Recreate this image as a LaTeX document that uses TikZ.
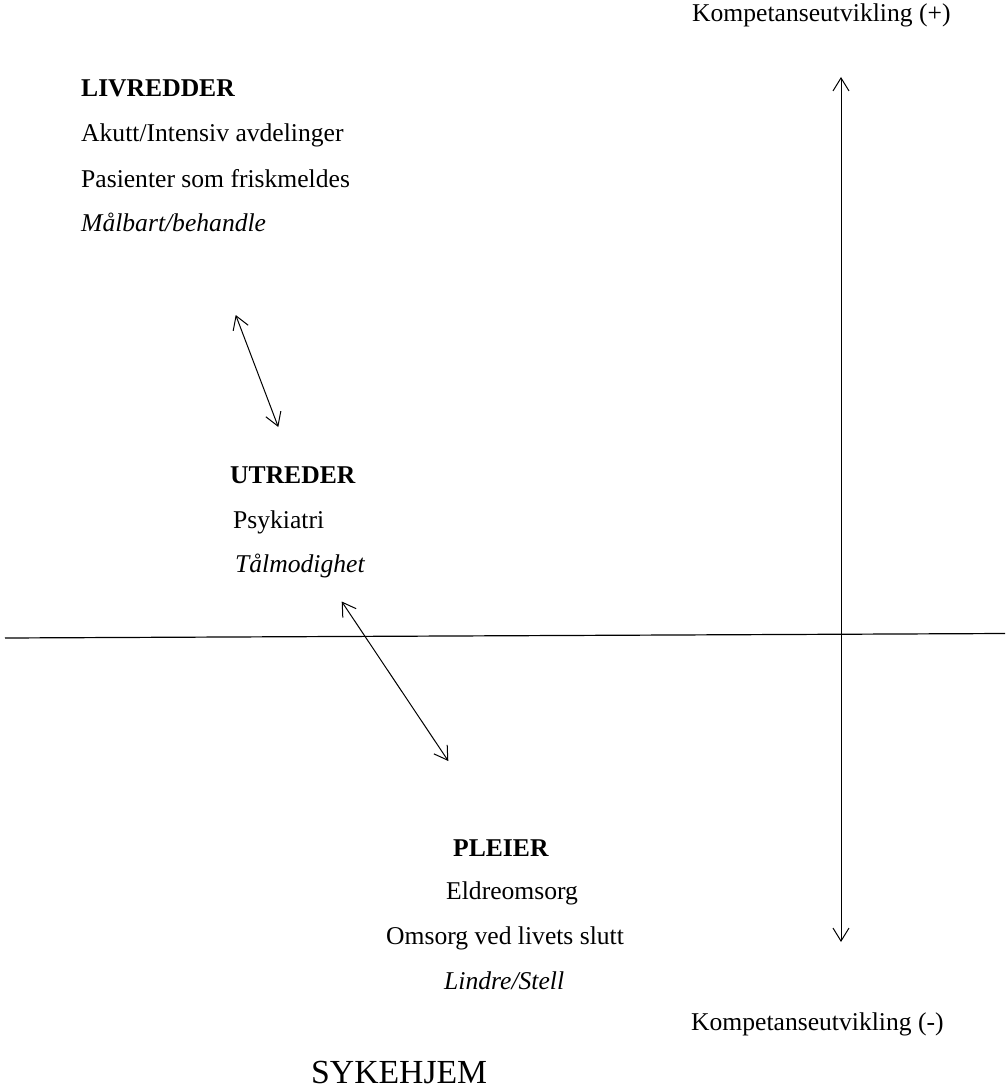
\documentclass[tikz,border=0pt]{standalone}
\usepackage{fontspec}
\setmainfont{Liberation Serif}
\usetikzlibrary{arrows.meta}
\tikzset{
  txt/.style={anchor=base west, inner sep=0pt, font=\fontsize{25.6}{30}\selectfont},
  hd/.style={txt, font=\fontsize{25.6}{30}\selectfont\bfseries},
  it/.style={txt, font=\fontsize{25.6}{30}\selectfont\itshape},
  big/.style={anchor=base west, inner sep=0pt, font=\fontsize{33.7}{40}\selectfont},
  axis/.style={line width=1.2pt, black},
  dbl/.style={line width=1pt, black, {Straight Barb[length=13pt,width=16pt]}-{Straight Barb[length=13pt,width=16pt]}}
}
\begin{document}
\begin{tikzpicture}[x=1pt,y=-1pt]
\useasboundingbox (0,0) rectangle (1005,1089);
% texts
\node[txt] (kplus) at (692,22) {Kompetanseutvikling (+)};
\node[hd] (liv) at (81,97) {LIVREDDER};
\node[txt] (akutt) at (81,142) {Akutt/Intensiv avdelinger};
\node[txt] (pas) at (81,187) {Pasienter som friskmeldes};
\node[it] (maal) at (81,231) {Målbart/behandle};
\node[hd] (utr) at (230,483) {UTREDER};
\node[txt] (psyk) at (233,528) {Psykiatri};
\node[it] (taal) at (235,572) {Tålmodighet};
\node[hd] (pleier) at (453,856) {PLEIER};
\node[txt] (eldre) at (446,899) {Eldreomsorg};
\node[txt] (omsorg) at (386,944) {Omsorg ved livets slutt};
\node[it] (lindre) at (444,989) {Lindre/Stell};
\node[txt] (kminus) at (691,1030) {Kompetanseutvikling (-)};
\node[big] (syk) at (311,1083) {SYKEHJEM};
% axis coordinates
\coordinate (hL) at (5,638);
\coordinate (hR) at (1005,633.5);
\coordinate (vT) at (841,77);
\coordinate (vB) at (841,942);
\coordinate (a1T) at (235.7,315);
\coordinate (a1B) at (278.3,427);
\coordinate (a2T) at (341.7,601.5);
\coordinate (a2B) at (448.3,761);
% connectors
\draw[axis] (hL) -- (hR);
\draw[dbl] (vT) -- (vB);
\draw[dbl] (a1T) -- (a1B);
\draw[dbl] (a2T) -- (a2B);
\end{tikzpicture}
\end{document}
